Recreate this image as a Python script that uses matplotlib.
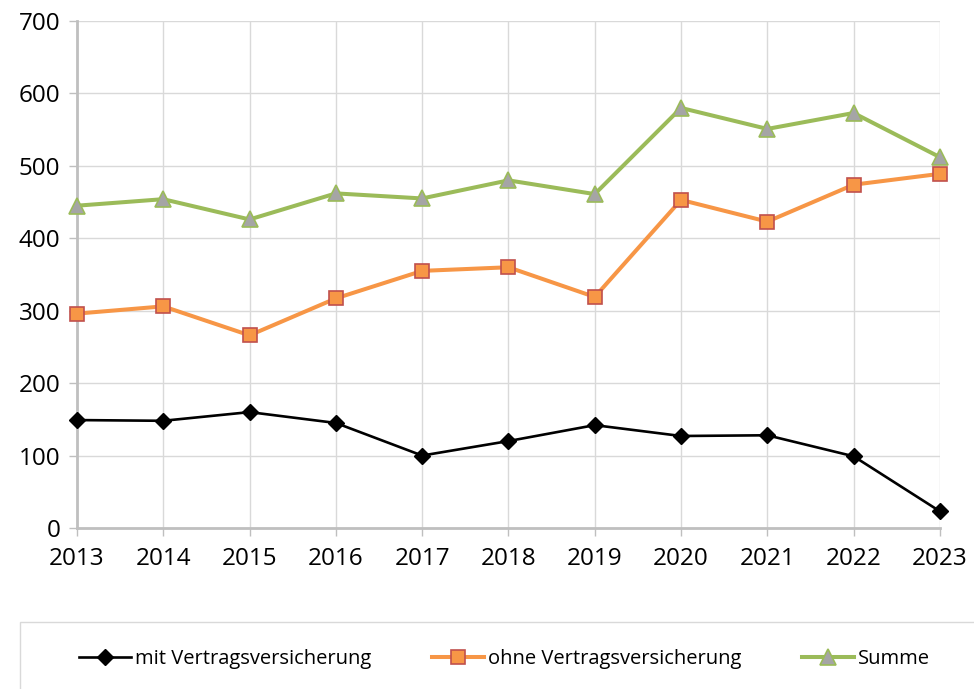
import matplotlib
matplotlib.use('Agg')
import matplotlib.pyplot as plt
from matplotlib.patches import Rectangle

plt.rcParams['font.family'] = ['Open Sans', 'DejaVu Sans']

years = [2013, 2014, 2015, 2016, 2017, 2018, 2019, 2020, 2021, 2022, 2023]
mit = [149, 148, 160, 145, 100, 120, 142, 127, 128, 99, 23]
ohne = [296, 306, 266, 317, 355, 360, 319, 453, 423, 474, 489]
summe = [445, 454, 426, 462, 455, 480, 461, 580, 551, 573, 512]

fig = plt.figure(figsize=(9.74, 6.89), dpi=100)
ax = fig.add_axes([0.079, 0.2337, 0.886, 0.7358])

# Linien
ax.plot(years, mit, color='black', lw=1.9, marker='D', markersize=8,
        markerfacecolor='black', markeredgecolor='black',
        label='mit Vertragsversicherung', clip_on=False, zorder=5)
ax.plot(years, ohne, color='#F79646', lw=2.9, marker='s', markersize=10,
        markerfacecolor='#F79646', markeredgecolor='#C0504D', markeredgewidth=1.2,
        label='ohne Vertragsversicherung', clip_on=False, zorder=4)
ax.plot(years, summe, color='#9BBB59', lw=2.9, marker='^', markersize=11,
        markerfacecolor='#A5A5A5', markeredgecolor='#9BBB59', markeredgewidth=1.2,
        label='Summe', clip_on=False, zorder=3)

ax.set_xlim(2013, 2023)
ax.set_ylim(0, 700)
ax.set_xticks(years)
ax.set_yticks(range(0, 701, 100))
ax.grid(True, color='#D9D9D9', lw=1)
ax.set_axisbelow(True)

for s in ['top', 'right']:
    ax.spines[s].set_visible(False)
for s in ['left', 'bottom']:
    ax.spines[s].set_color('#BFBFBF')
    ax.spines[s].set_linewidth(2)

ax.tick_params(axis='both', colors='#BFBFBF', labelcolor='black', labelsize=17.5,
               length=6, width=1)
ax.tick_params(axis='x', pad=8)
ax.tick_params(axis='y', pad=6)

# Legende unten mit Rahmen
fig.patches.append(Rectangle((20 / 974, -0.01), 1.0, 1 - 622 / 689 + 0.01,
                             transform=fig.transFigure, fill=False,
                             edgecolor='#D9D9D9', lw=1))
fig.legend(loc='center', bbox_to_anchor=(0.518, 1 - 659 / 689), ncol=3,
           frameon=False, fontsize=14.5, handlelength=2.6, handletextpad=0.2,
           columnspacing=3.0)

fig.savefig('out.png', dpi=100)
